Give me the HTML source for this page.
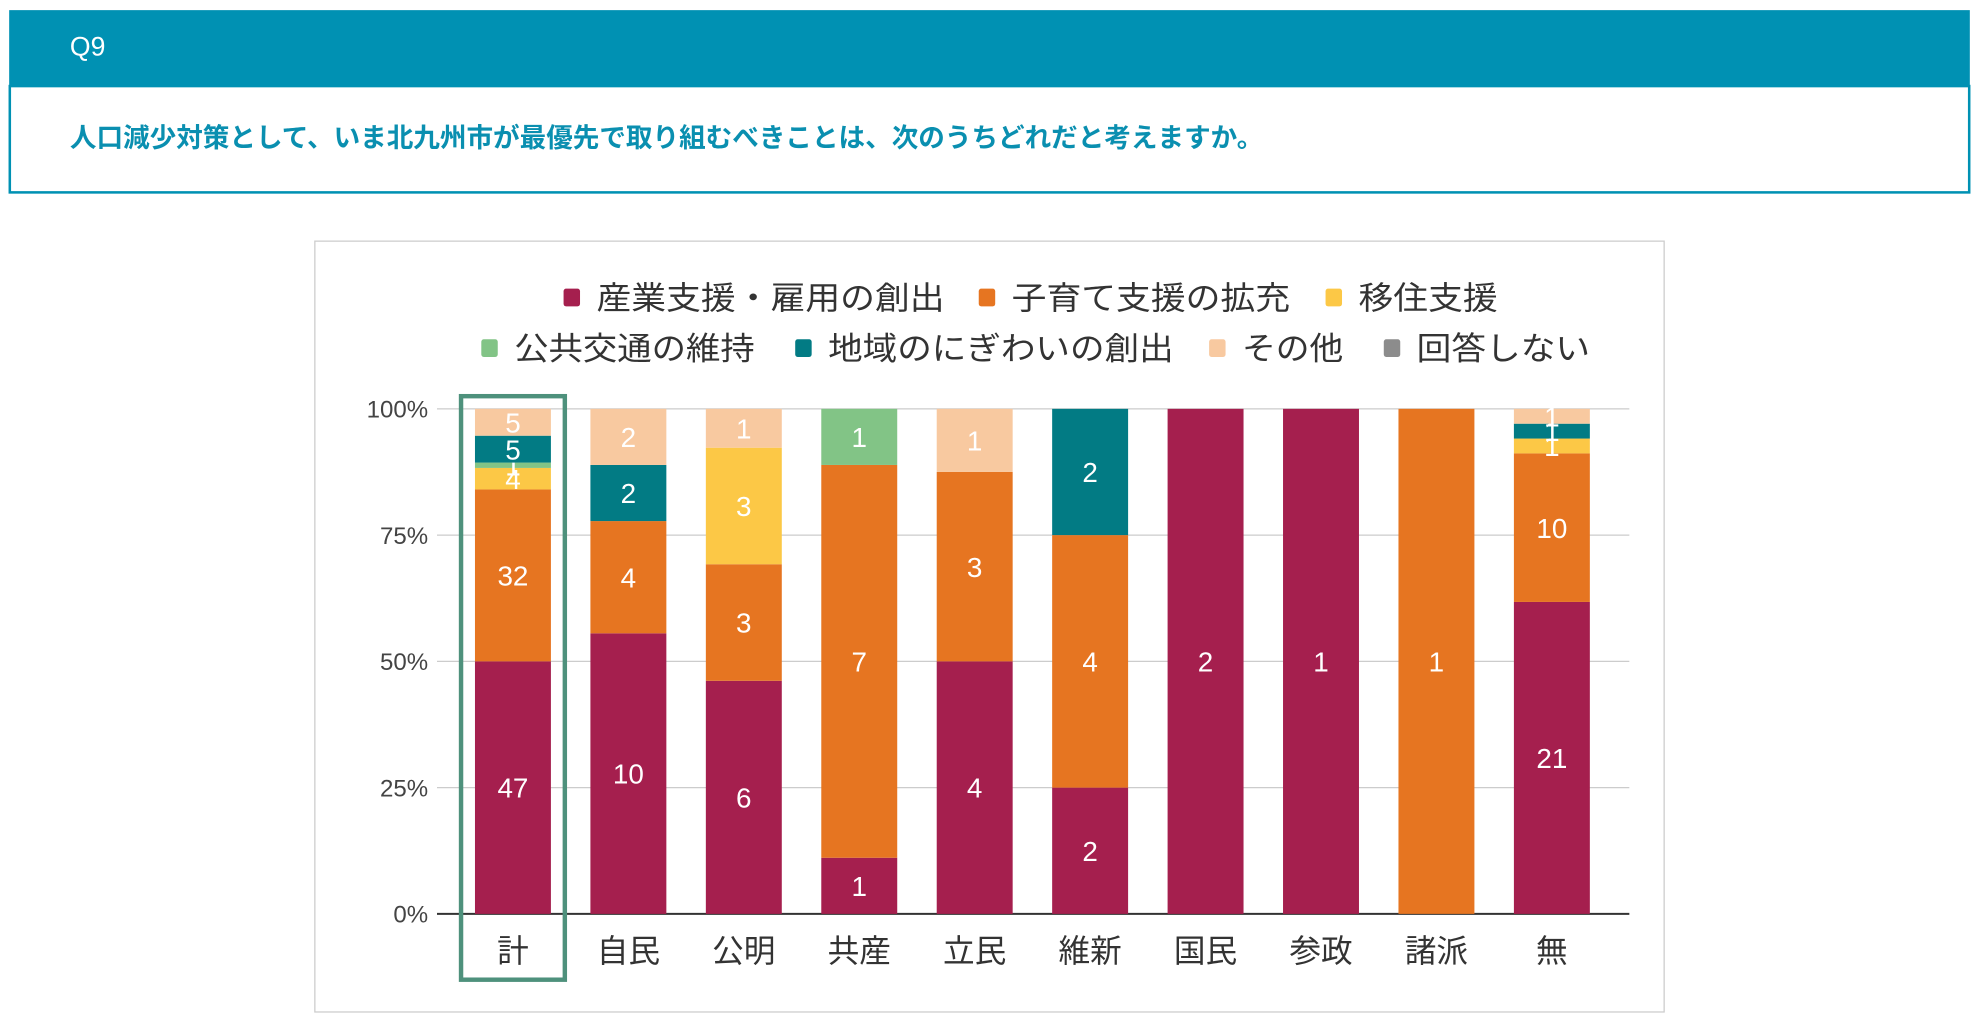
<!DOCTYPE html>
<html><head><meta charset="utf-8"><style>
html,body{margin:0;padding:0;background:#fff;}
svg{display:block;font-family:"Liberation Sans","Noto Sans CJK JP",sans-serif;}
</style></head><body>
<svg id="page" width="1979" height="1024" viewBox="0 0 1563 809" xmlns="http://www.w3.org/2000/svg">
<rect x="7" y="8" width="1549" height="60" fill="#0091b3"/>
<text x="55" y="44" font-size="21" fill="#fff">Q9</text>
<rect x="7.5" y="68" width="1548" height="84" fill="#fff" stroke="#0091b3" stroke-width="2"/>
<text x="55" y="116" font-size="21" font-weight="bold" fill="#0a8fb0">人口減少対策として、いま北九州市が最優先で取り組むべきことは、次のうちどれだと考えますか。</text>
<rect x="248.5" y="190.5" width="1066" height="609" fill="#fff" stroke="#ccc" stroke-width="1"/>
<g id="legend"></g>
<g id="grid"></g>
<g id="bars"></g>
<g id="xlabels"></g>
<rect x="364" y="313" width="82" height="461" fill="none" stroke="#4e917c" stroke-width="3.5"/>
</svg>
<script>
const categories = ["計","自民","公明","共産","立民","維新","国民","参政","諸派","無"];
const seriesNames = ["産業支援・雇用の創出","子育て支援の拡充","移住支援","公共交通の維持","地域のにぎわいの創出","その他","回答しない"];
const sangyo   = [47,10,6,1,4,2,2,1,0,21];
const kosodate = [32,4,3,7,3,4,0,0,1,10];
const iju      = [4,0,3,0,0,0,0,0,0,1];
const kotsu    = [1,0,0,1,0,0,0,0,0,0];
const chiiki   = [5,2,0,0,0,2,0,0,0,1];
const sonota   = [5,2,1,0,1,0,0,0,0,1];
const kaitou   = [0,0,0,0,0,0,0,0,0,0];
const yTicks = ["0%","25%","50%","75%","100%"];
const seriesData = [sangyo,kosodate,iju,kotsu,chiiki,sonota,kaitou];
const colors = ["#a51f4e","#e67521","#fcc846","#82c486","#027b84","#f8c9a0","#8c8c8c"];
const NS="http://www.w3.org/2000/svg";
function mk(tag,attrs,parent){const e=document.createElementNS(NS,tag);for(const k in attrs)e.setAttribute(k,attrs[k]);parent.appendChild(e);return e;}
const y0=722, y100=323, x0=405, step=91.2, bw=60;
function yScale(p){return y0-(y0-y100)*p;}
function xScale(i){return x0+step*i;}
const grid=document.getElementById('grid');
yTicks.forEach((t,i)=>{
  const p=i/(yTicks.length-1), y=yScale(p);
  const l=mk('line',{x1:345,x2:1287,y1:y,y2:y,stroke:i===0?'#333':'#ccc','stroke-width':i===0?1.5:1},grid);
  
  
  const tx=mk('text',{x:338,y:y+7,'font-size':19,fill:'#444','text-anchor':'end'},grid);
  tx.textContent=t;
  
  
});
const bars=document.getElementById('bars');
categories.forEach((c,i)=>{
  const total=seriesData.reduce((s,a)=>s+a[i],0);
  let cum=0;
  seriesData.forEach((arr,k)=>{
    const v=arr[i]; if(!v) return;
    const yt=yScale((cum+v)/total), yb=yScale(cum/total);
    const r=mk('rect',{x:xScale(i)-bw/2,y:yt,width:bw,height:yb-yt,fill:colors[k]},bars);
    
    
    const t=mk('text',{x:xScale(i),y:(yt+yb)/2+8,'font-size':22,fill:'#fff','text-anchor':'middle'},bars);
    t.textContent=v;
    
    
    cum+=v;
  });
  const xl=mk('text',{x:xScale(i),y:760,'font-size':25,fill:'#333','text-anchor':'middle'},document.getElementById('xlabels'));
  xl.textContent=c;
  
  
});
const legend=document.getElementById('legend');
const legPos=[[445,235,275],[773,235,220],[1047,235,110],[380,275,190],[628,275,273],[955,275,80],[1093,275,137]];
seriesNames.forEach((n,k)=>{
  const [x,y,w]=legPos[k];
  const s=mk('rect',{x:x,y:y-7,width:13,height:14,rx:2,fill:colors[k]},legend);
  
  
  const t=mk('text',{x:x+26,y:y+9,'font-size':25,fill:'#333',textLength:w,lengthAdjust:'spacingAndGlyphs'},legend);
  t.textContent=n;
  
  
});
</script>
</body></html>
